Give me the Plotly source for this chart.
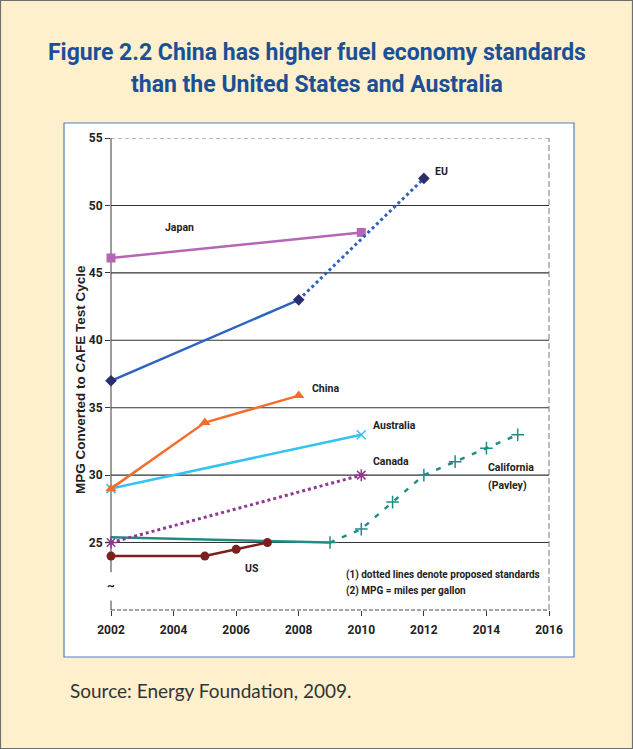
import plotly.graph_objects as go

# ---------------- data ----------------
years_ticks = [2002, 2004, 2006, 2008, 2010, 2012, 2014, 2016]
y_ticks = [25, 30, 35, 40, 45, 50, 55]

japan_years = [2002, 2010]
japan_mpg = [46.1, 48.0]

eu_years = [2002, 2008, 2012]
eu_mpg = [37.0, 43.0, 52.0]
eu_proposed_from = 2008

china_years = [2002, 2005, 2008]
china_mpg = [29.0, 33.9, 35.9]

australia_years = [2002, 2010]
australia_mpg = [29.0, 33.0]

canada_years = [2002, 2010]
canada_mpg = [25.0, 30.0]          # proposed (dotted)

california_years = [2002, 2009, 2010, 2011, 2012, 2013, 2014, 2015]
california_mpg = [25.4, 25.0, 26.0, 28.0, 30.0, 31.0, 32.0, 33.0]
california_proposed_from = 2009

us_years = [2002, 2005, 2006, 2007]
us_mpg = [24.0, 24.0, 24.5, 25.0]

# ---------------- figure ----------------
W, H = 633, 749
L, R, T, B = 111, 549, 138, 610     # plot area in pixels
pw, ph = R - L, B - T


def px(xp):
    return (xp - L) / pw


def py(yp):
    return (B - yp) / ph


NARROW = "Roboto, Liberation Sans, sans-serif"

fig = go.Figure()


def split(years, vals, start):
    solid = [(x, v) for x, v in zip(years, vals) if x <= start]
    prop = [(x, v) for x, v in zip(years, vals) if x >= start]
    return solid, prop


# California
cal_solid, cal_prop = split(california_years, california_mpg, california_proposed_from)
fig.add_trace(go.Scatter(x=[p[0] for p in cal_solid], y=[p[1] for p in cal_solid], mode="lines",
                         line=dict(color="#1F8C86", width=2.5), showlegend=False))
fig.add_trace(go.Scatter(x=[p[0] for p in cal_prop], y=[p[1] for p in cal_prop], mode="lines+markers",
                         line=dict(color="#1F8C86", width=2.5, dash="5px,8px"),
                         marker=dict(symbol="cross-thin-open", size=9, line=dict(color="#1F8C86", width=1.5)),
                         showlegend=False))

# US
fig.add_trace(go.Scatter(x=us_years, y=us_mpg, mode="lines+markers",
                         line=dict(color="#7B1F1F", width=2.5),
                         marker=dict(symbol="circle", size=9, color="#7B1F1F"), showlegend=False))

# Canada (proposed, dotted)
fig.add_trace(go.Scatter(x=canada_years, y=canada_mpg, mode="lines+markers",
                         line=dict(color="#8E3A8E", width=3, dash="dot"),
                         marker=dict(symbol="asterisk-open", size=10, line=dict(color="#8E3A8E", width=1.5)),
                         showlegend=False))

# Australia
fig.add_trace(go.Scatter(x=australia_years, y=australia_mpg, mode="lines+markers",
                         line=dict(color="#33C3F0", width=2.5),
                         marker=dict(symbol="x-thin-open", size=9, line=dict(color="#33C3F0", width=1.5)),
                         showlegend=False))

# China
fig.add_trace(go.Scatter(x=china_years, y=china_mpg, mode="lines+markers",
                         line=dict(color="#F26E2C", width=2.5),
                         marker=dict(symbol="triangle-up", size=10, color="#F26E2C"), showlegend=False))

# Japan
fig.add_trace(go.Scatter(x=japan_years, y=japan_mpg, mode="lines+markers",
                         line=dict(color="#B466B4", width=2.5),
                         marker=dict(symbol="square", size=9, color="#B466B4"), showlegend=False))

# EU
eu_solid, eu_prop = split(eu_years, eu_mpg, eu_proposed_from)
fig.add_trace(go.Scatter(x=[p[0] for p in eu_solid], y=[p[1] for p in eu_solid], mode="lines",
                         line=dict(color="#2E62C0", width=2.5), showlegend=False))
fig.add_trace(go.Scatter(x=[p[0] for p in eu_prop], y=[p[1] for p in eu_prop], mode="lines",
                         line=dict(color="#2E62C0", width=3, dash="dot"), showlegend=False))
fig.add_trace(go.Scatter(x=eu_years, y=eu_mpg, mode="markers",
                         marker=dict(symbol="diamond", size=9, color="#2B2D6E"), showlegend=False))

fig.update_traces(cliponaxis=False)

# ---------------- shapes ----------------
shapes = []
# outer border
shapes.append(dict(type="rect", xref="paper", yref="paper", layer="below",
                   x0=px(0.5), x1=px(632.5), y0=py(748.5), y1=py(0.5),
                   line=dict(color="#6E6E6E", width=1.2), fillcolor="rgba(0,0,0,0)"))
# white chart box
shapes.append(dict(type="rect", xref="paper", yref="paper", layer="below",
                   x0=px(64), x1=px(574), y0=py(657), y1=py(123),
                   line=dict(color="#4F7FBF", width=1.2), fillcolor="white"))
# horizontal grid lines
for v in y_ticks[:-1]:
    shapes.append(dict(type="line", xref="paper", yref="y", x0=0, x1=1, y0=v, y1=v,
                       layer="below", line=dict(color="#333333", width=1.1)))
# dashed frame: top, right, bottom
shapes.append(dict(type="line", xref="paper", yref="y", x0=0, x1=1, y0=55, y1=55,
                   layer="below", line=dict(color="#7A7A7A", width=1, dash="4px,3px")))
shapes.append(dict(type="line", xref="paper", yref="paper", x0=1, x1=1, y0=0, y1=1,
                   layer="below", line=dict(color="#7A7A7A", width=1, dash="6px,3px")))
shapes.append(dict(type="line", xref="paper", yref="paper", x0=0, x1=1, y0=0, y1=0,
                   layer="below", line=dict(color="#4A4A4A", width=1, dash="4px,2px")))
# left axis with break
shapes.append(dict(type="line", xref="paper", yref="y", x0=0, x1=0, y0=22.8, y1=55,
                   layer="below", line=dict(color="#3A3A3A", width=1)))
shapes.append(dict(type="line", xref="paper", yref="y", x0=0, x1=0, y0=20, y1=20.7,
                   layer="below", line=dict(color="#3A3A3A", width=1)))

# ---------------- annotations ----------------
lab_font = dict(family=NARROW, size=10.5, color="#222222")
ann = []


def label(text, x, y, anchor="left", size=None):
    f = dict(lab_font)
    if size:
        f["size"] = size
    ann.append(dict(text="<b>%s</b>" % text, x=x, y=y, xref="x", yref="y", showarrow=False,
                    xanchor=anchor, yanchor="middle", font=f))


label("EU", 2012.3, 52.5)
label("Japan", 2004.2, 48.4, "center")
label("China", 2008.35, 36.4)
label("Australia", 2010.3, 33.7)
label("Canada", 2010.3, 31.0)
label("California", 2014.0, 30.6, "left")
label("(Pavley)", 2014.0, 29.2, "left")
label("US", 2006.5, 23.1, "center")
label("(1) dotted lines denote proposed standards", 2009.45, 22.6, size=10)
label("(2) MPG = miles per gallon", 2009.45, 21.4, size=10)
ann.append(dict(text="<b>~</b>", x=2002, y=21.8, xref="x", yref="y", showarrow=False,
                xanchor="center", yanchor="middle", font=dict(family=NARROW, size=12, color="#222")))

title_font = dict(family=NARROW, size=23, color="#1B4F96")
ann.append(dict(text="<b>Figure 2.2 China has higher fuel economy standards</b>", x=px(317), y=py(52),
                xref="paper", yref="paper", showarrow=False, xanchor="center", yanchor="middle",
                font=title_font))
ann.append(dict(text="<b>than the United States and Australia</b>", x=px(317), y=py(84),
                xref="paper", yref="paper", showarrow=False, xanchor="center", yanchor="middle",
                font=title_font))
ann.append(dict(text="<b>MPG Converted to CAFE Test Cycle</b>", x=px(80), y=py(380),
                xref="paper", yref="paper", showarrow=False, xanchor="center", yanchor="middle",
                textangle=-90, font=dict(family="Liberation Sans, Arial, sans-serif", size=13.5, color="#222")))
ann.append(dict(text="Source: Energy Foundation, 2009.", x=px(68), y=py(690),
                xref="paper", yref="paper", showarrow=False, xanchor="left", yanchor="middle",
                font=dict(family="Lato, Open Sans, sans-serif", size=19, color="#333333")))

tick_font = dict(family=NARROW, size=12, color="#222222")
fig.update_layout(
    width=W, height=H,
    margin=dict(l=L, r=W - R, t=T, b=H - B, pad=0),
    paper_bgcolor="#FEF0CC",
    plot_bgcolor="white",
    shapes=shapes,
    annotations=ann,
    xaxis=dict(range=[2002, 2016], tickvals=years_ticks, ticktext=["<b>%d</b>" % v for v in years_ticks],
               showgrid=False, zeroline=False, showline=False, ticks="outside", ticklen=5,
               tickcolor="#3A3A3A", tickfont=tick_font, ticklabelstandoff=4),
    yaxis=dict(range=[20, 55], tickvals=y_ticks, ticktext=["<b>%d</b>" % v for v in y_ticks],
               showgrid=False, zeroline=False, showline=False, ticks="outside", ticklen=5,
               tickcolor="#3A3A3A", tickfont=tick_font),
)

fig.write_html("out.html", config={"displayModeBar": False},
               post_script="document.body.style.margin='0px';document.body.style.overflow='hidden';")
